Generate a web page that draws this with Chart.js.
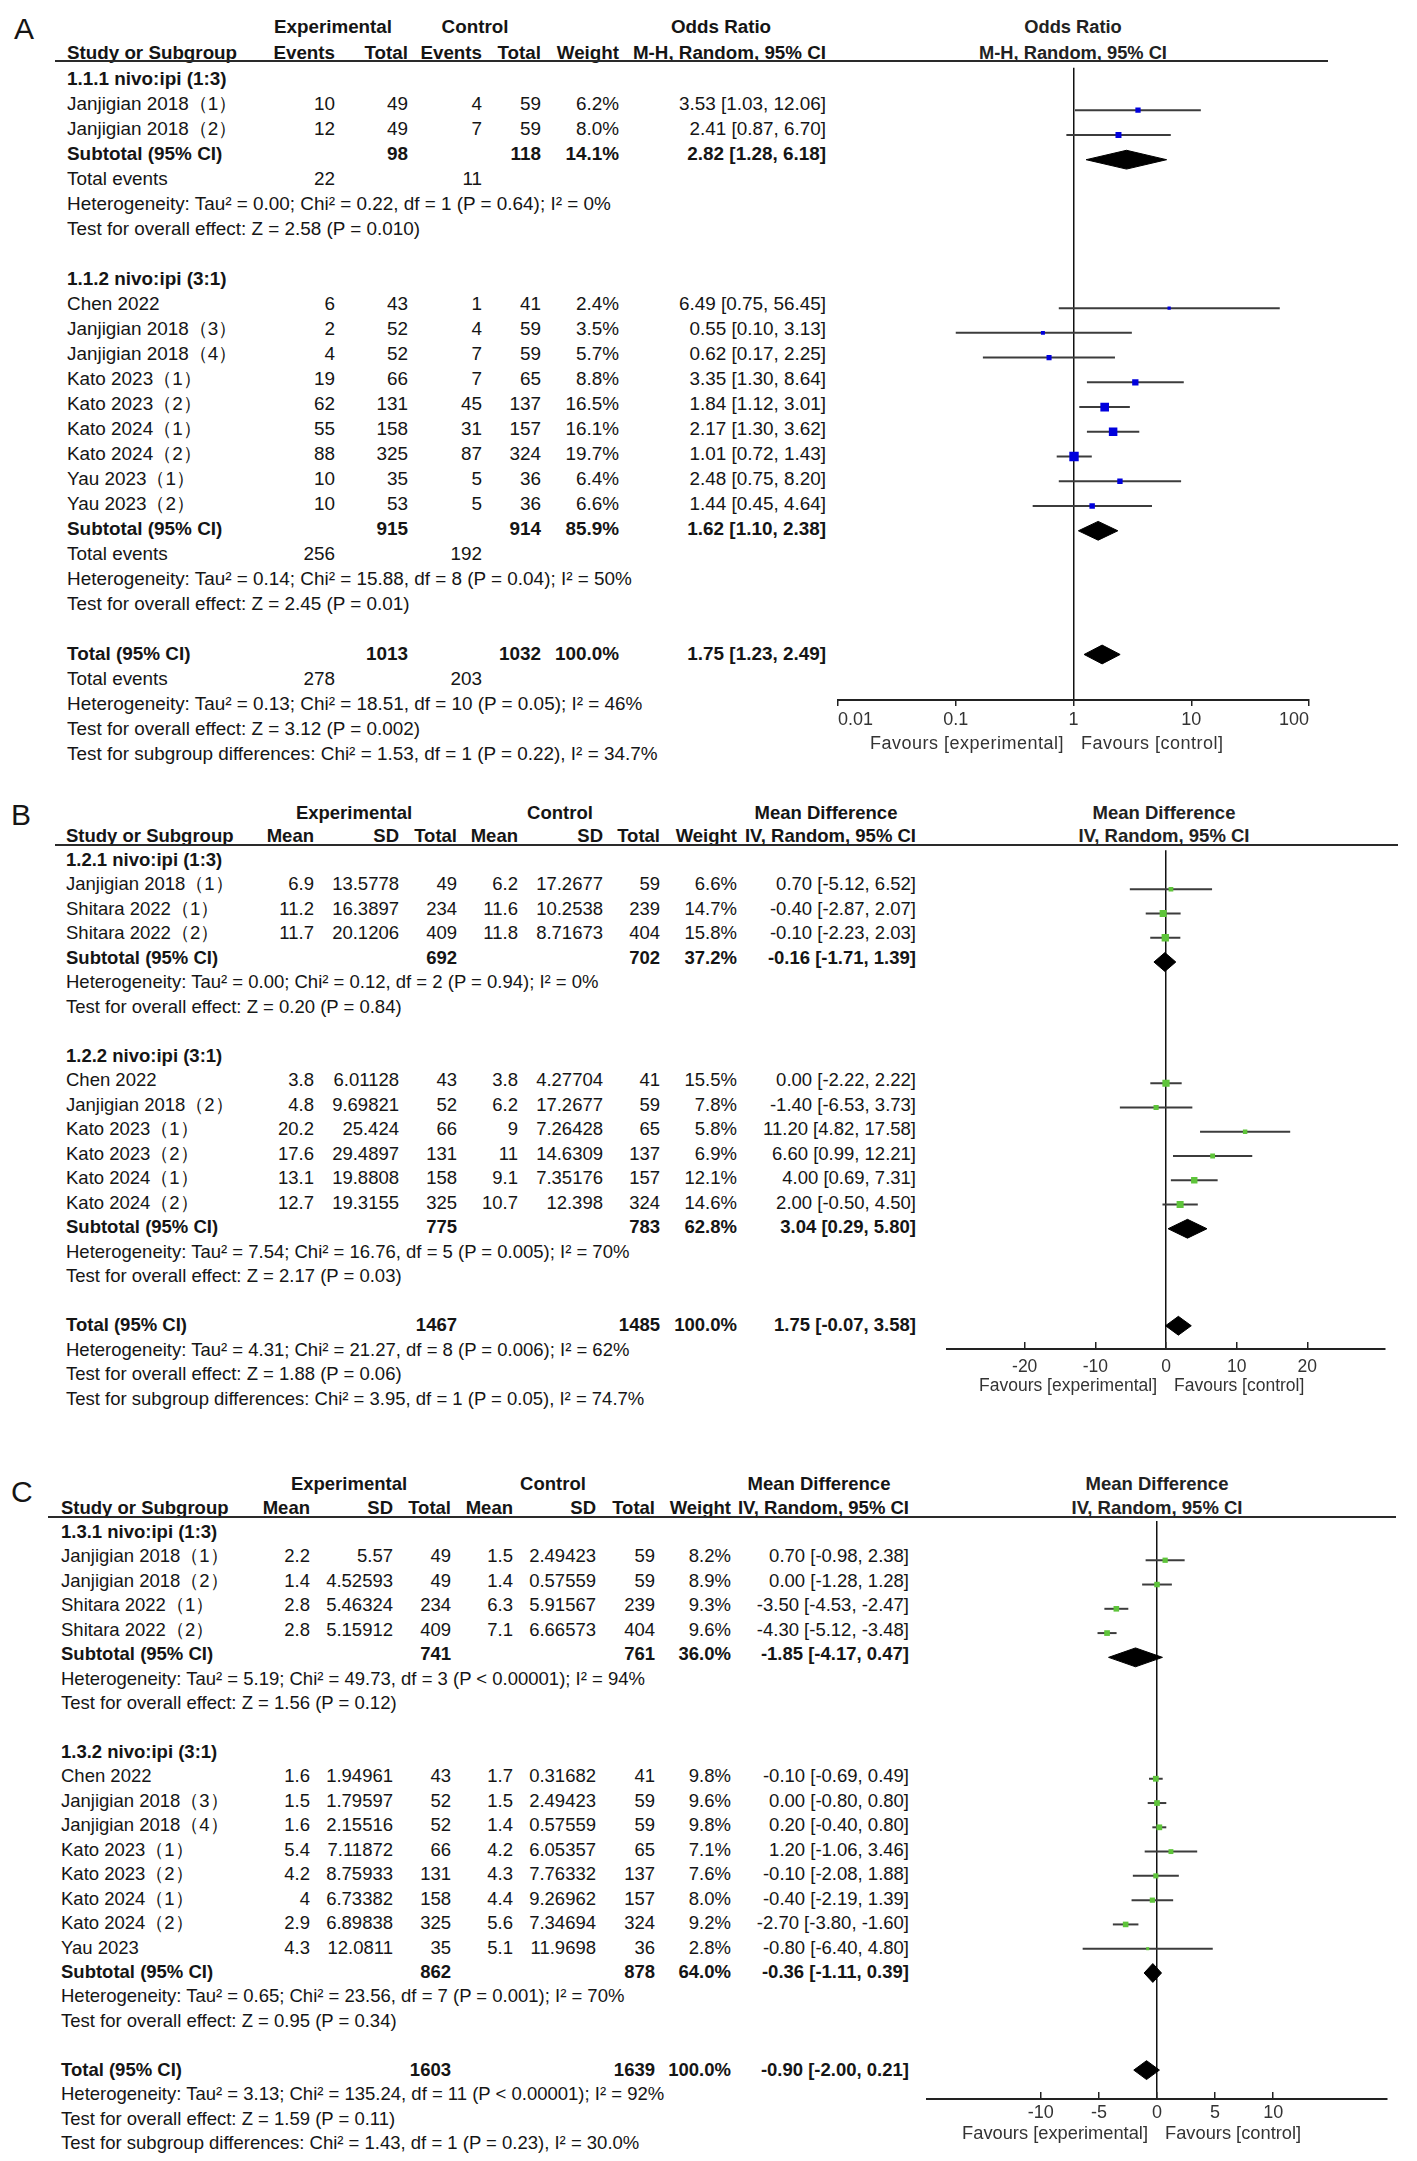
<!DOCTYPE html>
<html>
<head>
<meta charset="utf-8">
<script src="https://cdn.jsdelivr.net/npm/chart.js@4.4.1/dist/chart.umd.min.js"></script>
<style>
  html, body { margin: 0; padding: 0; background: #fff; }
  #page { position: relative; width: 1417px; height: 2161px; overflow: hidden;
          font-family: "Liberation Sans", Arial, sans-serif; color: #151515; }
  .t { position: absolute; white-space: nowrap; }
  .hl { position: absolute; height: 2px; background: #2a2a2a; }
  canvas { position: absolute; }
</style>
</head>
<body>
<div id="page"></div>
<script>
// ---------- Panel A: odds ratio ----------
const aGroupNames = ['1.1.1 nivo:ipi (1:3)', '1.1.2 nivo:ipi (3:1)'];
const aStudies = ['Janjigian 2018（1）', 'Janjigian 2018（2）', 'Chen 2022', 'Janjigian 2018（3）', 'Janjigian 2018（4）',
  'Kato 2023（1）', 'Kato 2023（2）', 'Kato 2024（1）', 'Kato 2024（2）', 'Yau 2023（1）', 'Yau 2023（2）'];
const aGroupOf = [0, 0, 1, 1, 1, 1, 1, 1, 1, 1, 1];
const aExpEvents = [10, 12, 6, 2, 4, 19, 62, 55, 88, 10, 10];
const aExpTotal = [49, 49, 43, 52, 52, 66, 131, 158, 325, 35, 53];
const aCtrlEvents = [4, 7, 1, 4, 7, 7, 45, 31, 87, 5, 5];
const aCtrlTotal = [59, 59, 41, 59, 59, 65, 137, 157, 324, 36, 36];
const aWeight = [6.2, 8.0, 2.4, 3.5, 5.7, 8.8, 16.5, 16.1, 19.7, 6.4, 6.6];
const aOR = [3.53, 2.41, 6.49, 0.55, 0.62, 3.35, 1.84, 2.17, 1.01, 2.48, 1.44];
const aLow = [1.03, 0.87, 0.75, 0.10, 0.17, 1.30, 1.12, 1.30, 0.72, 0.75, 0.45];
const aHigh = [12.06, 6.70, 56.45, 3.13, 2.25, 8.64, 3.01, 3.62, 1.43, 8.20, 4.64];
const aSubExpTotal = [98, 915];
const aSubCtrlTotal = [118, 914];
const aSubExpEvents = [22, 256];
const aSubCtrlEvents = [11, 192];
const aSubWeight = [14.1, 85.9];
const aSubOR = [2.82, 1.62];
const aSubLow = [1.28, 1.10];
const aSubHigh = [6.18, 2.38];
const aSubHet = ['Heterogeneity: Tau² = 0.00; Chi² = 0.22, df = 1 (P = 0.64); I² = 0%',
  'Heterogeneity: Tau² = 0.14; Chi² = 15.88, df = 8 (P = 0.04); I² = 50%'];
const aSubTest = ['Test for overall effect: Z = 2.58 (P = 0.010)', 'Test for overall effect: Z = 2.45 (P = 0.01)'];
const aTotalN = [1013, 1032];
const aTotalEvents = [278, 203];
const aTotalOR = [1.75, 1.23, 2.49];
const aTotalNotes = ['Heterogeneity: Tau² = 0.13; Chi² = 18.51, df = 10 (P = 0.05); I² = 46%',
  'Test for overall effect: Z = 3.12 (P = 0.002)',
  'Test for subgroup differences: Chi² = 1.53, df = 1 (P = 0.22), I² = 34.7%'];
const aTicks = [0.01, 0.1, 1, 10, 100];
const aTickLabels = ['0.01', '0.1', '1', '10', '100'];

// ---------- Panel B: mean difference ----------
const bGroupNames = ['1.2.1 nivo:ipi (1:3)', '1.2.2 nivo:ipi (3:1)'];
const bStudies = ['Janjigian 2018（1）', 'Shitara 2022（1）', 'Shitara 2022（2）', 'Chen 2022', 'Janjigian 2018（2）',
  'Kato 2023（1）', 'Kato 2023（2）', 'Kato 2024（1）', 'Kato 2024（2）'];
const bGroupOf = [0, 0, 0, 1, 1, 1, 1, 1, 1];
const bExpMean = [6.9, 11.2, 11.7, 3.8, 4.8, 20.2, 17.6, 13.1, 12.7];
const bExpSD = [13.5778, 16.3897, 20.1206, 6.01128, 9.69821, 25.424, 29.4897, 19.8808, 19.3155];
const bExpN = [49, 234, 409, 43, 52, 66, 131, 158, 325];
const bCtrlMean = [6.2, 11.6, 11.8, 3.8, 6.2, 9, 11, 9.1, 10.7];
const bCtrlSD = [17.2677, 10.2538, 8.71673, 4.27704, 17.2677, 7.26428, 14.6309, 7.35176, 12.398];
const bCtrlN = [59, 239, 404, 41, 59, 65, 137, 157, 324];
const bWeight = [6.6, 14.7, 15.8, 15.5, 7.8, 5.8, 6.9, 12.1, 14.6];
const bMD = [0.70, -0.40, -0.10, 0.00, -1.40, 11.20, 6.60, 4.00, 2.00];
const bLow = [-5.12, -2.87, -2.23, -2.22, -6.53, 4.82, 0.99, 0.69, -0.50];
const bHigh = [6.52, 2.07, 2.03, 2.22, 3.73, 17.58, 12.21, 7.31, 4.50];
const bSubExpN = [692, 775];
const bSubCtrlN = [702, 783];
const bSubWeight = [37.2, 62.8];
const bSubMD = [-0.16, 3.04];
const bSubLow = [-1.71, 0.29];
const bSubHigh = [1.39, 5.80];
const bSubHet = ['Heterogeneity: Tau² = 0.00; Chi² = 0.12, df = 2 (P = 0.94); I² = 0%',
  'Heterogeneity: Tau² = 7.54; Chi² = 16.76, df = 5 (P = 0.005); I² = 70%'];
const bSubTest = ['Test for overall effect: Z = 0.20 (P = 0.84)', 'Test for overall effect: Z = 2.17 (P = 0.03)'];
const bTotalN = [1467, 1485];
const bTotalMD = [1.75, -0.07, 3.58];
const bTotalNotes = ['Heterogeneity: Tau² = 4.31; Chi² = 21.27, df = 8 (P = 0.006); I² = 62%',
  'Test for overall effect: Z = 1.88 (P = 0.06)',
  'Test for subgroup differences: Chi² = 3.95, df = 1 (P = 0.05), I² = 74.7%'];
const bTicks = [-20, -10, 0, 10, 20];
const bTickLabels = ['-20', '-10', '0', '10', '20'];

// ---------- Panel C: mean difference ----------
const cGroupNames = ['1.3.1 nivo:ipi (1:3)', '1.3.2 nivo:ipi (3:1)'];
const cStudies = ['Janjigian 2018（1）', 'Janjigian 2018（2）', 'Shitara 2022（1）', 'Shitara 2022（2）', 'Chen 2022',
  'Janjigian 2018（3）', 'Janjigian 2018（4）', 'Kato 2023（1）', 'Kato 2023（2）', 'Kato 2024（1）', 'Kato 2024（2）', 'Yau 2023'];
const cGroupOf = [0, 0, 0, 0, 1, 1, 1, 1, 1, 1, 1, 1];
const cExpMean = [2.2, 1.4, 2.8, 2.8, 1.6, 1.5, 1.6, 5.4, 4.2, 4, 2.9, 4.3];
const cExpSD = [5.57, 4.52593, 5.46324, 5.15912, 1.94961, 1.79597, 2.15516, 7.11872, 8.75933, 6.73382, 6.89838, 12.0811];
const cExpN = [49, 49, 234, 409, 43, 52, 52, 66, 131, 158, 325, 35];
const cCtrlMean = [1.5, 1.4, 6.3, 7.1, 1.7, 1.5, 1.4, 4.2, 4.3, 4.4, 5.6, 5.1];
const cCtrlSD = [2.49423, 0.57559, 5.91567, 6.66573, 0.31682, 2.49423, 0.57559, 6.05357, 7.76332, 9.26962, 7.34694, 11.9698];
const cCtrlN = [59, 59, 239, 404, 41, 59, 59, 65, 137, 157, 324, 36];
const cWeight = [8.2, 8.9, 9.3, 9.6, 9.8, 9.6, 9.8, 7.1, 7.6, 8.0, 9.2, 2.8];
const cMD = [0.70, 0.00, -3.50, -4.30, -0.10, 0.00, 0.20, 1.20, -0.10, -0.40, -2.70, -0.80];
const cLow = [-0.98, -1.28, -4.53, -5.12, -0.69, -0.80, -0.40, -1.06, -2.08, -2.19, -3.80, -6.40];
const cHigh = [2.38, 1.28, -2.47, -3.48, 0.49, 0.80, 0.80, 3.46, 1.88, 1.39, -1.60, 4.80];
const cSubExpN = [741, 862];
const cSubCtrlN = [761, 878];
const cSubWeight = [36.0, 64.0];
const cSubMD = [-1.85, -0.36];
const cSubLow = [-4.17, -1.11];
const cSubHigh = [0.47, 0.39];
const cSubHet = ['Heterogeneity: Tau² = 5.19; Chi² = 49.73, df = 3 (P < 0.00001); I² = 94%',
  'Heterogeneity: Tau² = 0.65; Chi² = 23.56, df = 7 (P = 0.001); I² = 70%'];
const cSubTest = ['Test for overall effect: Z = 1.56 (P = 0.12)', 'Test for overall effect: Z = 0.95 (P = 0.34)'];
const cTotalN = [1603, 1639];
const cTotalMD = [-0.90, -2.00, 0.21];
const cTotalNotes = ['Heterogeneity: Tau² = 3.13; Chi² = 135.24, df = 11 (P < 0.00001); I² = 92%',
  'Test for overall effect: Z = 1.59 (P = 0.11)',
  'Test for subgroup differences: Chi² = 1.43, df = 1 (P = 0.23), I² = 30.0%'];
const cTicks = [-10, -5, 0, 5, 10];
const cTickLabels = ['-10', '-5', '0', '5', '10'];

// ---------- helpers ----------
const W = 1417;
const page = document.getElementById('page');
Chart.defaults.font.family = '"Liberation Sans", Arial, sans-serif';

function put(text, x, y, o) {
  o = o || {};
  const fs = o.size || 18.5;
  const el = document.createElement('div');
  el.className = 't';
  el.textContent = text;
  el.style.fontSize = fs + 'px';
  el.style.lineHeight = (fs * 1.2) + 'px';
  el.style.top = (y - fs * 0.6) + 'px';
  if (o.align === 'right') el.style.right = (W - x) + 'px';
  else if (o.align === 'center') { el.style.left = x + 'px'; el.style.transform = 'translateX(-50%)'; }
  else el.style.left = x + 'px';
  if (o.bold) el.style.fontWeight = 'bold';
  if (o.color) el.style.color = o.color;
  if (o.spacing) el.style.letterSpacing = o.spacing + 'px';
  page.appendChild(el);
}
function hline(x1, x2, y) {
  const d = document.createElement('div');
  d.className = 'hl';
  d.style.left = x1 + 'px';
  d.style.width = (x2 - x1) + 'px';
  d.style.top = (y - 1) + 'px';
  page.appendChild(d);
}
const f2 = v => v.toFixed(2);
const ci = (e, l, h) => f2(e) + ' [' + f2(l) + ', ' + f2(h) + ']';
const pct = w => w.toFixed(1) + '%';

// writes the text table and collects the row of every study and summary
function table(p) {
  const rowY = r => p.rowY0 + r * p.rowH;
  const fs = p.fs;
  const marks = [], diamonds = [];
  const cells = (r, arr, bold) => arr.forEach((s, k) => { if (s !== '') put(s, p.cols[k], rowY(r), { align: 'right', bold, size: fs }); });
  let r = 0;
  p.groupNames.forEach((gName, g) => {
    put(gName, p.studyX, rowY(r), { bold: true, size: fs }); r++;
    p.studies.forEach((name, i) => {
      if (p.groupOf[i] !== g) return;
      put(name, p.studyX, rowY(r), { size: fs });
      cells(r, p.studyCells(i), false);
      marks.push({ row: r, est: p.est[i], lo: p.low[i], hi: p.high[i], w: p.weight[i] });
      r++;
    });
    put('Subtotal (95% CI)', p.studyX, rowY(r), { bold: true, size: fs });
    cells(r, p.subCells(g), true);
    diamonds.push({ row: r, est: p.subEst[g], lo: p.subLow[g], hi: p.subHigh[g] });
    r++;
    if (p.subEvents) { put('Total events', p.studyX, rowY(r), { size: fs }); cells(r, p.subEvents(g), false); r++; }
    put(p.subHet[g], p.studyX, rowY(r), { size: fs }); r++;
    put(p.subTest[g], p.studyX, rowY(r), { size: fs }); r++;
    r++;
  });
  put('Total (95% CI)', p.studyX, rowY(r), { bold: true, size: fs });
  cells(r, p.totalCells, true);
  diamonds.push({ row: r, est: p.totalEst[0], lo: p.totalEst[1], hi: p.totalEst[2] });
  r++;
  if (p.totalEvents) { put('Total events', p.studyX, rowY(r), { size: fs }); cells(r, p.totalEvents, false); r++; }
  p.totalNotes.forEach(s => { put(s, p.studyX, rowY(r), { size: fs }); r++; });
  return { marks, diamonds };
}

function forest(f, rows) {
  const padL = 60, padR = 60, axisH = 40;
  const cw = f.right - f.left + padL + padR;
  const ch = f.bottom - f.top + axisH;
  const cv = document.createElement('canvas');
  cv.width = cw; cv.height = ch;
  cv.style.left = (f.left - padL) + 'px';
  cv.style.top = f.top + 'px';
  cv.style.width = cw + 'px';
  cv.style.height = ch + 'px';
  page.appendChild(cv);
  const dh = 9.5 / f.rowH;
  const datasets = [];
  datasets.push({
    data: rows.marks.map(m => ({ x: m.est, y: m.row })),
    pointStyle: 'rect',
    pointRadius: rows.marks.map(m => f.markScale * Math.sqrt(m.w)),
    backgroundColor: f.color, borderWidth: 0, showLine: false
  });
  rows.diamonds.forEach(d => datasets.push({
    data: [{ x: d.lo, y: d.row }, { x: d.est, y: d.row - dh }, { x: d.hi, y: d.row }, { x: d.est, y: d.row + dh }, { x: d.lo, y: d.row }],
    showLine: true, fill: 'shape', backgroundColor: '#000', borderColor: '#000', borderWidth: 1, pointRadius: 0
  }));
  rows.marks.forEach(m => datasets.push({
    data: [{ x: m.lo, y: m.row }, { x: m.hi, y: m.row }],
    showLine: true, borderColor: '#3c3c3c', borderWidth: 2, pointRadius: 0
  }));
  new Chart(cv, {
    type: 'scatter',
    data: { datasets },
    options: {
      responsive: false, animation: false, events: [],
      layout: { padding: { left: padL, right: padR, top: 0, bottom: 0 } },
      plugins: { legend: { display: false }, tooltip: { enabled: false } },
      scales: {
        x: {
          type: f.log ? 'logarithmic' : 'linear',
          min: f.xMin, max: f.xMax,
          afterBuildTicks: s => { s.ticks = f.ticks.map(v => ({ value: v })); },
          afterFit: s => { s.height = axisH; },
          ticks: {
            autoSkip: false, maxRotation: 0, padding: f.tickPad,
            align: f.log ? 'inner' : 'center',
            color: '#333', font: { size: f.tickSize },
            callback: (v, i) => f.tickLabels[i]
          },
          grid: {
            color: c => (c.tick && c.tick.value === f.nullValue) ? '#111' : 'rgba(0,0,0,0)',
            tickColor: '#222', lineWidth: 1.5, tickLength: f.tickLen
          },
          border: { display: true, color: '#222', width: 2 }
        },
        y: {
          type: 'linear', display: false, reverse: true,
          min: (f.top - f.rowY0) / f.rowH, max: (f.bottom - f.rowY0) / f.rowH
        }
      }
    }
  });
  put('Favours [experimental]', f.nullX - 9, f.favY, { align: 'right', size: f.favSize, color: '#333', spacing: f.spacing });
  put('Favours [control]', f.nullX + 8, f.favY, { size: f.favSize, color: '#333', spacing: f.spacing });
}

// ---------- Panel A ----------
put('A', 14, 29, { size: 30 });
[['Experimental', 333], ['Control', 475], ['Odds Ratio', 721]].forEach(h => put(h[0], h[1], 27, { align: 'center', bold: true, size: 18.8 }));
put('Study or Subgroup', 67, 53, { bold: true, size: 18.8 });
const aCols = [335, 408, 482, 541, 619, 826];
['Events', 'Total', 'Events', 'Total', 'Weight', 'M-H, Random, 95% CI'].forEach((h, k) => put(h, aCols[k], 53, { align: 'right', bold: true, size: 18.8 }));
put('Odds Ratio', 1073, 27, { align: 'center', bold: true, size: 18.3, color: '#222' });
put('M-H, Random, 95% CI', 1073, 53, { align: 'center', bold: true, size: 18.3, color: '#222' });
hline(55, 1328, 61);
const aRows = table({
  rowY0: 79, rowH: 25, fs: 18.9, studyX: 67, cols: aCols,
  groupNames: aGroupNames, studies: aStudies, groupOf: aGroupOf,
  est: aOR, low: aLow, high: aHigh, weight: aWeight,
  studyCells: i => [String(aExpEvents[i]), String(aExpTotal[i]), String(aCtrlEvents[i]), String(aCtrlTotal[i]), pct(aWeight[i]), ci(aOR[i], aLow[i], aHigh[i])],
  subCells: g => ['', String(aSubExpTotal[g]), '', String(aSubCtrlTotal[g]), pct(aSubWeight[g]), ci(aSubOR[g], aSubLow[g], aSubHigh[g])],
  subEvents: g => [String(aSubExpEvents[g]), '', String(aSubCtrlEvents[g])],
  subEst: aSubOR, subLow: aSubLow, subHigh: aSubHigh, subHet: aSubHet, subTest: aSubTest,
  totalCells: ['', String(aTotalN[0]), '', String(aTotalN[1]), pct(100), ci(aTotalOR[0], aTotalOR[1], aTotalOR[2])],
  totalEvents: [String(aTotalEvents[0]), '', String(aTotalEvents[1])],
  totalEst: aTotalOR, totalNotes: aTotalNotes
});
forest({
  left: 838, right: 1309, top: 61, bottom: 700, rowY0: 79, rowH: 25,
  log: true, xMin: 0.01, xMax: 100, ticks: aTicks, tickLabels: aTickLabels, nullValue: 1, nullX: 1073,
  color: '#0000dd', markScale: 1.5, tickSize: 18, tickLen: 6, tickPad: 3,
  favSize: 18, spacing: 0.5, favY: 744
}, aRows);

// ---------- Panel B ----------
put('B', 11, 815, { size: 30 });
[['Experimental', 354], ['Control', 560], ['Mean Difference', 826]].forEach(h => put(h[0], h[1], 813, { align: 'center', bold: true }));
put('Study or Subgroup', 66, 836, { bold: true });
const bCols = [314, 399, 457, 518, 603, 660, 737, 916];
['Mean', 'SD', 'Total', 'Mean', 'SD', 'Total', 'Weight', 'IV, Random, 95% CI'].forEach((h, k) => put(h, bCols[k], 836, { align: 'right', bold: true }));
put('Mean Difference', 1164, 813, { align: 'center', bold: true, color: '#222' });
put('IV, Random, 95% CI', 1164, 836, { align: 'center', bold: true, color: '#222' });
hline(55, 1398, 845);
const bRows = table({
  rowY0: 860, rowH: 24.5, fs: 18.5, studyX: 66, cols: bCols,
  groupNames: bGroupNames, studies: bStudies, groupOf: bGroupOf,
  est: bMD, low: bLow, high: bHigh, weight: bWeight,
  studyCells: i => [String(bExpMean[i]), String(bExpSD[i]), String(bExpN[i]), String(bCtrlMean[i]), String(bCtrlSD[i]), String(bCtrlN[i]), pct(bWeight[i]), ci(bMD[i], bLow[i], bHigh[i])],
  subCells: g => ['', '', String(bSubExpN[g]), '', '', String(bSubCtrlN[g]), pct(bSubWeight[g]), ci(bSubMD[g], bSubLow[g], bSubHigh[g])],
  subEst: bSubMD, subLow: bSubLow, subHigh: bSubHigh, subHet: bSubHet, subTest: bSubTest,
  totalCells: ['', '', String(bTotalN[0]), '', '', String(bTotalN[1]), pct(100), ci(bTotalMD[0], bTotalMD[1], bTotalMD[2])],
  totalEst: bTotalMD, totalNotes: bTotalNotes
});
forest({
  left: 947, right: 1385, top: 845, bottom: 1349, rowY0: 860, rowH: 24.5,
  log: false, xMin: -31, xMax: 31, ticks: bTicks, tickLabels: bTickLabels, nullValue: 0, nullX: 1166,
  color: '#5ec43a', markScale: 1.3, tickSize: 17.5, tickLen: -7, tickPad: 15,
  favSize: 17.5, spacing: 0, favY: 1385
}, bRows);

// ---------- Panel C ----------
put('C', 11, 1492, { size: 30 });
[['Experimental', 349], ['Control', 553], ['Mean Difference', 819]].forEach(h => put(h[0], h[1], 1484, { align: 'center', bold: true }));
put('Study or Subgroup', 61, 1508, { bold: true });
const cCols = [310, 393, 451, 513, 596, 655, 731, 909];
['Mean', 'SD', 'Total', 'Mean', 'SD', 'Total', 'Weight', 'IV, Random, 95% CI'].forEach((h, k) => put(h, cCols[k], 1508, { align: 'right', bold: true }));
put('Mean Difference', 1157, 1484, { align: 'center', bold: true, color: '#222' });
put('IV, Random, 95% CI', 1157, 1508, { align: 'center', bold: true, color: '#222' });
hline(48, 1396, 1517);
const cRows = table({
  rowY0: 1532, rowH: 24.45, fs: 18.5, studyX: 61, cols: cCols,
  groupNames: cGroupNames, studies: cStudies, groupOf: cGroupOf,
  est: cMD, low: cLow, high: cHigh, weight: cWeight,
  studyCells: i => [String(cExpMean[i]), String(cExpSD[i]), String(cExpN[i]), String(cCtrlMean[i]), String(cCtrlSD[i]), String(cCtrlN[i]), pct(cWeight[i]), ci(cMD[i], cLow[i], cHigh[i])],
  subCells: g => ['', '', String(cSubExpN[g]), '', '', String(cSubCtrlN[g]), pct(cSubWeight[g]), ci(cSubMD[g], cSubLow[g], cSubHigh[g])],
  subEst: cSubMD, subLow: cSubLow, subHigh: cSubHigh, subHet: cSubHet, subTest: cSubTest,
  totalCells: ['', '', String(cTotalN[0]), '', '', String(cTotalN[1]), pct(100), ci(cTotalMD[0], cTotalMD[1], cTotalMD[2])],
  totalEst: cTotalMD, totalNotes: cTotalNotes
});
forest({
  left: 927, right: 1387, top: 1517, bottom: 2099, rowY0: 1532, rowH: 24.45,
  log: false, xMin: -19.8, xMax: 19.8, ticks: cTicks, tickLabels: cTickLabels, nullValue: 0, nullX: 1157,
  color: '#5ec43a', markScale: 1.3, tickSize: 18, tickLen: -7, tickPad: 10,
  favSize: 18.3, spacing: 0, favY: 2133
}, cRows);
</script>
</body>
</html>
